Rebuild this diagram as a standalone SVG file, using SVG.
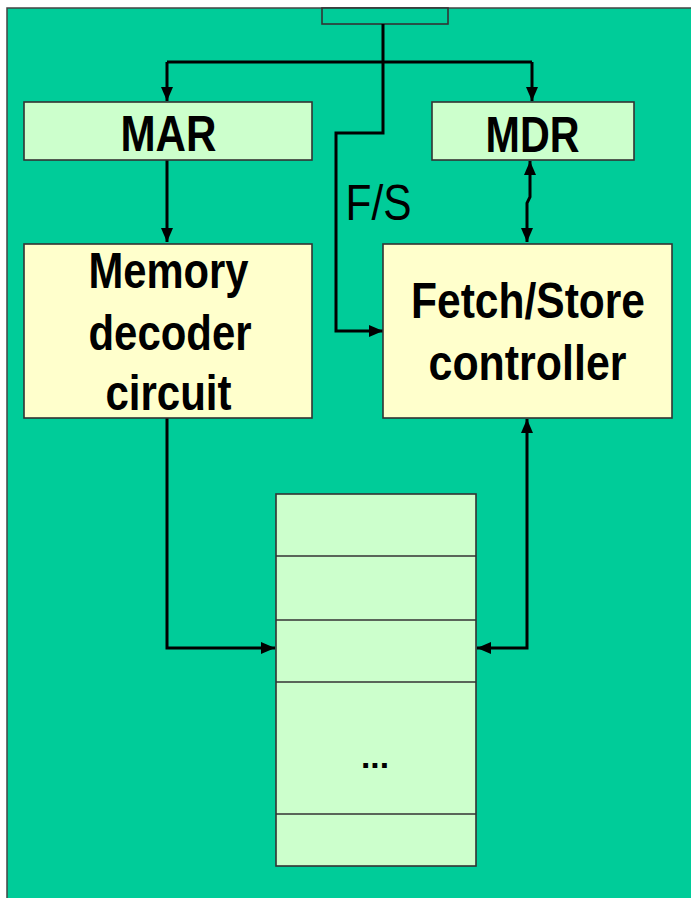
<svg xmlns="http://www.w3.org/2000/svg" width="691" height="898" viewBox="0 0 691 898">
<style>
.box{stroke:#333;stroke-width:1.6}
.lg{fill:#CCFFCC}
.ye{fill:#FFFFCC}
.w{fill:none;stroke:#000;stroke-width:3}
.t{font-family:"Liberation Sans",Arial,sans-serif;font-size:50px;font-weight:bold;fill:#000;text-anchor:middle}
.tr{font-family:"Liberation Sans",Arial,sans-serif;font-size:50px;fill:#000;text-anchor:middle}
</style>
<defs>
<marker id="ah" viewBox="0 0 14 12" refX="14" refY="6" markerWidth="14" markerHeight="12" markerUnits="userSpaceOnUse" orient="auto-start-reverse">
<path d="M0,0 L14,6 L0,12 Z" fill="#000"/>
</marker>
</defs>
<rect x="0" y="0" width="691" height="898" fill="#fff"/>
<rect x="7" y="8" width="700" height="900" fill="#00CC99" stroke="#444" stroke-width="1.5"/>
<g id="top-box"><rect class="box" x="322" y="8" width="126" height="16" fill="#00CC99"/></g>
<g id="connectors">
<path class="w" d="M383,24 V133 H336 V331 H383" marker-end="url(#ah)"/>
<path class="w" d="M167,62 H532"/>
<path class="w" d="M167,62 V101" marker-end="url(#ah)"/>
<path class="w" d="M532,62 V101" marker-end="url(#ah)"/>
<path class="w" d="M167,160 V242" marker-end="url(#ah)"/>
<path class="w" d="M530,161 V197 L527,203 V242" marker-start="url(#ah)" marker-end="url(#ah)"/>
<path class="w" d="M167,418 V648 H275" marker-end="url(#ah)"/>
<path class="w" d="M527,419 V648 H477" marker-start="url(#ah)" marker-end="url(#ah)"/>
</g>
<g id="mar"><rect class="box lg" x="24" y="102" width="288" height="58"/><text class="t" x="168.5" y="151" textLength="96" lengthAdjust="spacingAndGlyphs">MAR</text></g>
<g id="mdr"><rect class="box lg" x="432" y="102" width="202" height="58"/><text class="t" x="532.5" y="152" textLength="94" lengthAdjust="spacingAndGlyphs">MDR</text></g>
<g id="fs-label"><text class="tr" x="378.5" y="220" textLength="66" lengthAdjust="spacingAndGlyphs">F/S</text></g>
<g id="decoder"><rect class="box ye" x="24" y="244" width="288" height="174"/>
<text class="t" x="168.5" y="288" textLength="160" lengthAdjust="spacingAndGlyphs">Memory</text>
<text class="t" x="170" y="350" textLength="163" lengthAdjust="spacingAndGlyphs">decoder</text>
<text class="t" x="168.5" y="410" textLength="126" lengthAdjust="spacingAndGlyphs">circuit</text></g>
<g id="controller"><rect class="box ye" x="383" y="244" width="289" height="174"/>
<text class="t" x="528" y="318" textLength="234" lengthAdjust="spacingAndGlyphs">Fetch/Store</text>
<text class="t" x="527.5" y="380" textLength="198" lengthAdjust="spacingAndGlyphs">controller</text></g>
<g id="memory"><rect class="box lg" x="276" y="494" width="200" height="372"/>
<path class="box" d="M276,556 H476 M276,620 H476 M276,682 H476 M276,814 H476" fill="none"/>
<text x="375" y="768" font-family="Liberation Sans,Arial,sans-serif" font-size="34" font-weight="bold" text-anchor="middle" textLength="28" lengthAdjust="spacingAndGlyphs">...</text></g>
</svg>
